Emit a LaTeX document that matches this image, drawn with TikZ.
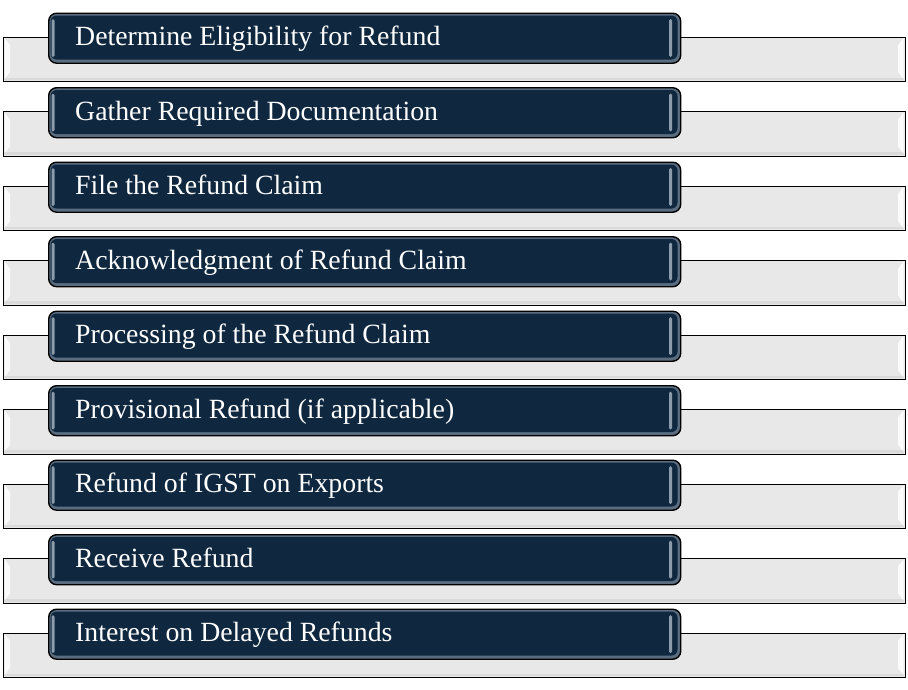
\documentclass[tikz,border=0pt]{standalone}
\usepackage{fontspec}
\setmainfont{Liberation Serif}
\definecolor{darkfill}{HTML}{10283F}
\definecolor{darkedge}{HTML}{5A6D80}
\definecolor{hilite}{HTML}{8A9BAC}
\definecolor{barfill}{HTML}{E8E8E8}
\definecolor{barshade}{HTML}{DADADA}
\tikzset{
  graybar/.style={draw=black, line width=1.4pt, fill=barfill},
  darkbox/.style={draw=black, line width=1.4pt, fill=darkedge, rounded corners=8pt},
  darkinner/.style={fill=darkfill, rounded corners=6pt},
  glint/.style={fill=hilite, rounded corners=1.5pt},
  bevel/.style={fill=white, opacity=0.85},
  steplabel/.style={anchor=base west, text=white, font=\fontsize{27.8}{29}\selectfont, inner sep=0pt}
}
\begin{document}
\begin{tikzpicture}[x=1pt,y=-1pt]
\useasboundingbox (0,0) rectangle (908,689);
\foreach \i/\txt in {0/Determine Eligibility for Refund,
                     1/Gather Required Documentation,
                     2/File the Refund Claim,
                     3/Acknowledgment of Refund Claim,
                     4/Processing of the Refund Claim,
                     5/Provisional Refund (if applicable),
                     6/Refund of IGST on Exports,
                     7/Receive Refund,
                     8/Interest on Delayed Refunds} {
  \pgfmathsetmacro{\yo}{74.5*\i}
  \begin{scope}[yshift=-\yo pt]
    % gray bar
    \node[graybar, minimum width=902pt, minimum height=44.5pt, inner sep=0pt, anchor=north west]
      (bar\i) at (3,36.5) {};
    \fill[barshade] (4,77.5) rectangle (904,80.3);
    \fill[bevel] (4.5,38) -- (10,45) -- (10,72) -- (4.5,79) -- cycle;
    \fill[bevel] (903.5,38) -- (898,45) -- (898,72) -- (903.5,79) -- cycle;
    % dark box
    \node[darkbox, minimum width=632pt, minimum height=50pt, inner sep=0pt, anchor=north west]
      (box\i) at (48,12.5) {};
    \fill[darkinner] (50.5,15.5) rectangle (677.5,59.5);
    \fill[glint] (51.5,19) rectangle (54.5,57);
    \fill[glint] (669,19) rectangle (672,57);
    \node[steplabel] (lab\i) at (75,45.5) {\txt};
  \end{scope}
}
\end{tikzpicture}
\end{document}
